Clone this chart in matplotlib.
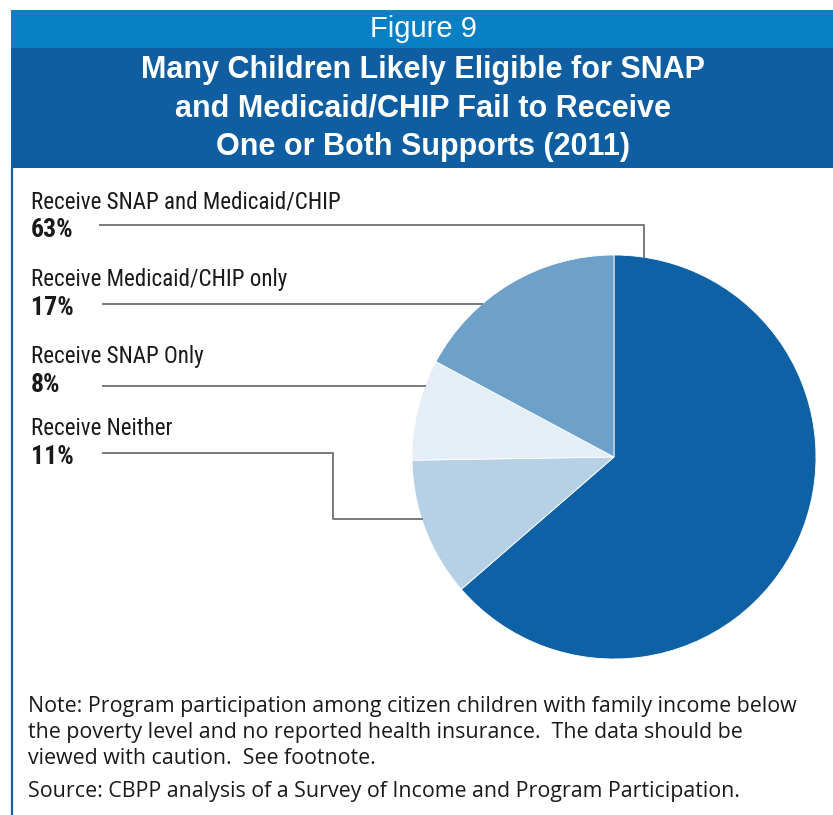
import numpy as np
import matplotlib.pyplot as plt

# participation shares, clockwise from 12 o'clock
shares = [63, 11, 8, 17]
slice_colors = ['#0f61a5', '#b6d1e5', '#e5edf6', '#6da1c9']

# label text, drawn top to bottom on the left
label_names = ['Receive SNAP and Medicaid/CHIP', 'Receive Medicaid/CHIP only',
               'Receive SNAP Only', 'Receive Neither']
label_values = [63, 17, 8, 11]

title_lines = ['Many Children Likely Eligible for SNAP',
               'and Medicaid/CHIP Fail to Receive',
               'One or Both Supports (2011)']
note_lines = ['Note: Program participation among citizen children with family income below',
              'the poverty level and no reported health insurance.  The data should be',
              'viewed with caution.  See footnote.']
source_line = 'Source: CBPP analysis of a Survey of Income and Program Participation.'

W, H = 833, 815
fig = plt.figure(figsize=(W / 100, H / 100), dpi=100)

# pixel-space canvas for the frame, text and leader lines
bg = fig.add_axes([0, 0, 1, 1])
bg.set_xlim(0, W)
bg.set_ylim(H, 0)
bg.axis('off')

bg.add_patch(plt.Rectangle((11, 10), W - 11, 38, color='#0a80c4', lw=0))
bg.add_patch(plt.Rectangle((11, 48), W - 11, 120, color='#0e5ea1', lw=0))
bg.plot([12, 12], [168, H], color='#1b5fa6', lw=1.6)

bg.text(423, 37, 'Figure 9', color='white', fontsize=21, ha='center',
        family='Liberation Sans')
for i, line in enumerate(title_lines):
    bg.text(423, 78 + i * 38.5, line, color='white', fontsize=22, ha='center',
            weight='bold', family='Liberation Sans')

label_font = ['Roboto Condensed', 'Noto Sans Condensed', 'Lato']
name_y = [208, 286, 363, 435]
for name, val, y in zip(label_names, label_values, name_y):
    bg.text(31, y, name, fontsize=16.6, family=label_font, stretch='condensed',
            color='#1a1a1a')
    bg.text(31, y + 29, f'{val}%', fontsize=18.5, family=label_font,
            stretch='condensed', weight='bold', color='#1a1a1a')

note_font = ['Open Sans', 'DejaVu Sans']
for i, line in enumerate(note_lines):
    bg.text(28, 712 + i * 26, line, fontsize=15.4, family=note_font, color='#1a1a1a')
bg.text(28, 797, source_line, fontsize=15.4, family=note_font, color='#1a1a1a')

# pie
cx, cy, r = 614, 457, 202
pax = fig.add_axes([(cx - r) / W, (H - cy - r) / H, 2 * r / W, 2 * r / H])
pax.pie(shares, colors=slice_colors, startangle=90, counterclock=False,
        wedgeprops=dict(linewidth=0.6, edgecolor='white'))
pax.set_xlim(-1, 1)
pax.set_ylim(-1, 1)
pax.set_zorder(0)
bg.set_zorder(1)
bg.patch.set_alpha(0)


def edge_x(y):
    return cx - np.sqrt(r ** 2 - (y - cy) ** 2)


def edge_y(x):
    return cy - np.sqrt(r ** 2 - (x - cx) ** 2)


lead = dict(color='#7a7a7a', lw=1.4)
bg.plot([100, 644, 644], [225, 225, edge_y(644)], **lead)
bg.plot([103, edge_x(304)], [304, 304], **lead)
bg.plot([103, edge_x(386)], [386, 386], **lead)
bg.plot([103, 333, 333, edge_x(519)], [453, 453, 519, 519], **lead)

fig.savefig('out.png', dpi=100, facecolor='white')
